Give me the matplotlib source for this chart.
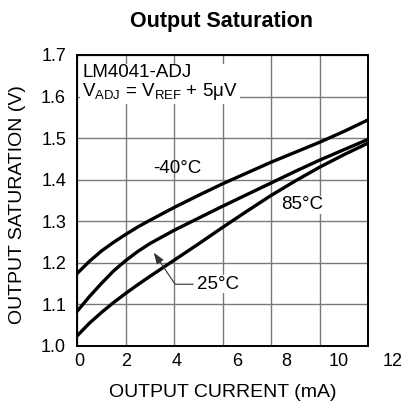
import matplotlib
matplotlib.use("Agg")
import matplotlib.pyplot as plt

plt.rcParams["font.family"] = ["Liberation Sans", "DejaVu Sans"]
plt.rcParams["mathtext.fontset"] = "custom"
plt.rcParams["mathtext.rm"] = "Liberation Sans"
plt.rcParams["mathtext.it"] = "Liberation Sans"

# output current (mA)
current = [0, 0.5, 1, 1.5, 2, 2.5, 3, 4, 5, 6, 7, 8, 9, 10, 11, 12]
# output saturation (V) per temperature
sat_m40 = [1.174, 1.203, 1.228, 1.249, 1.268, 1.286, 1.302, 1.333, 1.362, 1.390,
           1.416, 1.442, 1.466, 1.490, 1.516, 1.544]
sat_25 = [1.083, 1.118, 1.150, 1.180, 1.205, 1.227, 1.246, 1.278, 1.307, 1.336,
          1.364, 1.392, 1.420, 1.447, 1.472, 1.497]
sat_85 = [1.024, 1.054, 1.080, 1.104, 1.126, 1.147, 1.167, 1.206, 1.245, 1.285,
          1.324, 1.362, 1.397, 1.430, 1.460, 1.488]

grid_x = [0, 2, 4, 6, 8, 10, 12]
grid_y = [1.0, 1.1, 1.2, 1.3, 1.4, 1.5, 1.6, 1.7]
xtick_labels = ["0", "2", "4", "6", "8", "10", "12"]
# the printed labels drift right of the grid in the source chart
xtick_label_pos = [0.07, 2.0, 4.1, 6.6, 8.6, 10.8, 13.0]


fig = plt.figure(figsize=(4.02, 4.07), dpi=100)
ax = fig.add_axes([0.192, 0.1506, 0.724, 0.7143])

for y in (sat_m40, sat_25, sat_85):
    ax.plot(current, y, color="black", linewidth=2.4, solid_joinstyle="round", zorder=3)

ax.set_xlim(0, 12)
ax.set_ylim(1.0, 1.7)
ax.set_xticks(grid_x)
ax.set_xticklabels([])
ax.set_yticks(grid_y)
ax.set_yticklabels([f"{v:.1f}" for v in grid_y], fontsize=13)
ax.tick_params(length=0, pad=8)
ax.grid(True, color="#7a7a7a", linewidth=1.0)
ax.set_axisbelow(True)
for spine in ax.spines.values():
    spine.set_linewidth(1.4)

for pos, lab in zip(xtick_label_pos, xtick_labels):
    ax.text(pos, -0.025, lab, transform=ax.get_xaxis_transform(),
            ha="center", va="top", fontsize=13, clip_on=False)

ax.set_xlabel("OUTPUT CURRENT (mA)", fontsize=14)
ax.xaxis.set_label_coords(0.5, -0.133)
ax.set_ylabel("OUTPUT SATURATION (V)", fontsize=14)
ax.yaxis.set_label_coords(-0.177, 0.484)

fig.text(222 / 402, 1 - 21 / 407, "Output Saturation", ha="center", va="center",
         fontsize=15.5, fontweight="bold")

ax.text(0.2, 1.678, "LM4041-ADJ\nV$_{\\mathrm{ADJ}}$ = V$_{\\mathrm{REF}}$ + 5\u03bcV",
        ha="left", va="top", fontsize=13.5, linespacing=1.0, zorder=4,
        bbox=dict(facecolor="white", edgecolor="none", pad=1.5))

ax.text(4.12, 1.427, "-40\u00b0C", ha="center", va="center", fontsize=13.5)
ax.text(9.29, 1.339, "85\u00b0C", ha="center", va="center", fontsize=13.5,
        bbox=dict(facecolor="white", edgecolor="none", pad=0.5))
ax.annotate("25\u00b0C", xy=(3.16, 1.224), xytext=(4.93, 1.148),
            ha="left", va="center", fontsize=13.5,
            bbox=dict(facecolor="white", edgecolor="none", pad=0.5),
            arrowprops=dict(arrowstyle="-|>,head_length=0.5,head_width=0.18",
                            connectionstyle="angle,angleA=180,angleB=-56,rad=0",
                            color="#333333", linewidth=0.8,
                            relpos=(0, 0.5), shrinkA=2, shrinkB=0))

fig.savefig("out.png", dpi=100, facecolor="white")
